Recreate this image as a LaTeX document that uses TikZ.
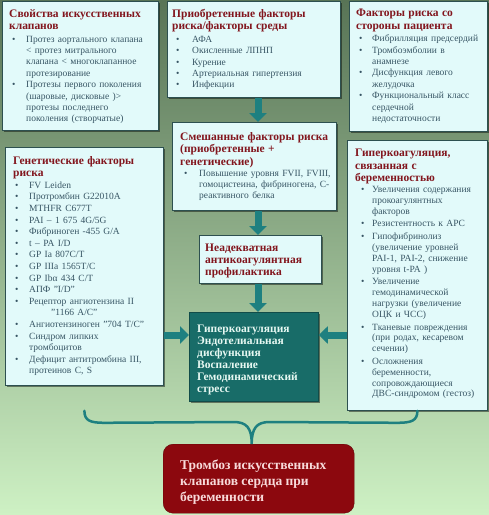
\documentclass[tikz,border=0pt]{standalone}
\usepackage{fontspec}
\setmainfont{Liberation Serif}
\usetikzlibrary{arrows.meta,shadows,calc}
\definecolor{bgtop}{RGB}{88,116,86}
\definecolor{bgmid}{RGB}{138,170,122}
\definecolor{bgbot}{RGB}{206,241,196}
\definecolor{boxfill}{RGB}{226,250,250}
\definecolor{boxline}{RGB}{45,80,80}
\definecolor{ttl}{RGB}{130,22,30}
\definecolor{bodyc}{RGB}{55,85,100}
\definecolor{arrowc}{RGB}{30,128,128}
\definecolor{tealbox}{RGB}{24,108,104}
\definecolor{tealtxt}{RGB}{230,248,242}
\definecolor{redbox}{RGB}{140,8,14}
\definecolor{redtxt}{RGB}{248,218,218}
\newlength\bind
\newlength\boff
\setlength\bind{17pt}
\setlength\boff{3pt}
\newcommand\ttlfont{\fontsize{11.5}{12.5}\selectfont\bfseries\color{ttl}}
\newcommand\bodyfont{\fontsize{9.5}{11.4}\selectfont\color{bodyc}}
\newcommand\bi[1]{\par\noindent\hangindent=\bind\hangafter=1\makebox[\bind][l]{\hspace{\boff}\textbullet}\begingroup\let\\\newline #1\endgroup}
\tikzset{
  infobox/.style={draw=boxline, line width=0.8pt, fill=boxfill, anchor=north west, inner sep=0pt,
    drop shadow={shadow xshift=1.5pt, shadow yshift=-1.5pt, fill=black, opacity=0.45}},
  txtblk/.style={anchor=north west, inner sep=0pt, align=left, text width=#1},
  blockarrow/.style={draw=arrowc, line width=7pt, -{Triangle[width=17pt,length=9pt,fill=arrowc]}},
  bracepath/.style={draw=arrowc, line width=2.5pt, line cap=round},
}
\begin{document}
\begin{tikzpicture}[x=1pt,y=-1pt]
\useasboundingbox (0,0) rectangle (489,515);
\shade[top color=bgtop, middle color=bgmid, bottom color=bgbot] (0,0) rectangle (489,515);

% boxes
\node[infobox, minimum width=156pt, minimum height=129pt] (b1) at (2,1) {};
\node[infobox, minimum width=173pt, minimum height=96pt] (b2) at (167,1) {};
\node[infobox, minimum width=138pt, minimum height=130pt] (b3) at (349,1) {};
\node[infobox, minimum width=164pt, minimum height=88pt] (b4) at (172,122) {};
\node[infobox, minimum width=158pt, minimum height=238pt] (b5) at (5,147) {};
\node[infobox, minimum width=140pt, minimum height=270pt] (b6) at (347,140) {};
\node[infobox, minimum width=122pt, minimum height=48pt] (b7) at (199,235) {};
\node[infobox, fill=tealbox, draw=tealbox!70!black, minimum width=129pt, minimum height=89pt] (b8) at (189,312) {};
\node[draw=redbox!70!black, fill=redbox, rounded corners=10pt, anchor=north west, inner sep=0pt,
  minimum width=191pt, minimum height=69pt] (b9) at (163,444) {};

% texts
\node[txtblk=150pt] (t1) at ($(b1.north west)+(7,8)$) {%
  {\ttlfont Свойства искусственных\\клапанов\par}\vspace{1pt}
  {\bodyfont
  \bi{Протез аортального клапана\\< протез митрального\\клапана < многоклапанное\\протезирование}
  \bi{Протезы первого поколения\\(шаровые, дисковые )>\\протезы последнего\\поколения (створчатые)}\par}};

\node[txtblk=168pt] (t2) at ($(b2.north west)+(5,8)$) {%
  {\ttlfont Приобретенные факторы\\риска/факторы среды\par}\vspace{1pt}
  {\bodyfont\setlength\bind{20pt}\setlength\boff{4pt}
  \bi{АФА}
  \bi{Окисленные ЛПНП}
  \bi{Курение}
  \bi{Артериальная гипертензия}
  \bi{Инфекции}\par}};

\node[txtblk=136pt] (t3) at ($(b3.north west)+(7,8)$) {%
  {\ttlfont Факторы риска со\\стороны пациента\par}\vspace{1pt}
  {\bodyfont\setlength\bind{16pt}
  \bi{Фибрилляция предсердий}
  \bi{Тромбоэмболии в\\анамнезе}
  \bi{Дисфункция левого\\желудочка}
  \bi{Функциональный класс\\сердечной\\недостаточности}\par}};

\node[txtblk=160pt] (t4) at ($(b4.north west)+(8,10)$) {%
  {\ttlfont Смешанные факторы риска\\(приобретенные +\\генетические)\par}\vspace{0.5pt}
  {\bodyfont\fontsize{9.5}{11}\selectfont\setlength\bind{19pt}\setlength\boff{4pt}
  \bi{Повышение уровня FVII, FVIII,\\гомоцистеина, фибриногена, С-\\реактивного белка}\par}};

\node[txtblk=154pt] (t5) at ($(b5.north west)+(8,9)$) {%
  {\ttlfont Генетические факторы\\риска\par}
  {\bodyfont\fontsize{9.5}{11.6}\selectfont\setlength\bind{16pt}\setlength\boff{2pt}
  \bi{FV Leiden}
  \bi{Протромбин G22010A}
  \bi{MTHFR C677T}
  \bi{PAI – 1 675 4G/5G}
  \bi{Фибриноген -455 G/A}
  \bi{t – PA I/D}
  \bi{GP Ia 807C/T}
  \bi{GP IIIa 1565T/C}
  \bi{GP Ibα 434 C/T}
  \bi{АПФ "I/D"}
  \bi{Рецептор ангиотензина II\\\hspace*{22pt}"1166 A/C"}
  \bi{Ангиотензиноген "704 T/C"}
  \bi{Синдром липких\\тромбоцитов}
  \bi{Дефицит антитромбина III,\\протеинов C, S}\par}};

\node[txtblk=138pt] (t6) at ($(b6.north west)+(8,9)$) {%
  {\ttlfont Гиперкоагуляция,\\связанная с\\беременностью\par}
  {\bodyfont\setlength\bind{17pt}\setlength\boff{6pt}\fontsize{9.5}{10.8}\selectfont
  \bi{Увеличения содержания\\прокоагулянтных\\факторов}\vspace{2pt}
  \bi{Резистентность к APC}\vspace{2pt}
  \bi{Гипофибринолиз\\(увеличение уровней\\PAI-1, PAI-2, снижение\\уровня t-PA )}\vspace{2pt}
  \bi{Увеличение\\гемодинамической\\нагрузки (увеличение\\ОЦК и ЧСС)}\vspace{2pt}
  \bi{Тканевые повреждения\\(при родах, кесаревом\\сечении)}\vspace{2pt}
  \bi{Осложнения\\беременности,\\сопровождающиеся\\ДВС-синдромом (гестоз)}\par}};

\node[txtblk=118pt] (t7) at ($(b7.north west)+(6,9)$) {%
  {\fontsize{11.5}{12}\selectfont\bfseries\color{ttl}Неадекватная\\антикоагулянтная\\профилактика\par}};

\node[txtblk=125pt] (t8) at ($(b8.north west)+(8,13)$) {%
  {\fontsize{11.5}{12}\selectfont\bfseries\color{tealtxt}Гиперкоагуляция\\Эндотелиальная\\дисфункция\\Воспаление\\Гемодинамический\\стресс\par}};

\node[txtblk=185pt] (t9) at ($(b9.north west)+(17,16)$) {%
  {\fontsize{13.5}{16}\selectfont\bfseries\color{redtxt}Тромбоз искусственных\\клапанов сердца при\\беременности\par}};

% arrows
\coordinate (ax) at (258,0);
\coordinate (ay) at (0,335);
\draw[blockarrow] (b2.south -| ax) -- (b4.north -| ax);
\draw[blockarrow] (b4.south -| ax) -- (b7.north -| ax);
\draw[blockarrow] (b7.south -| ax) -- (b8.north -| ax);
\draw[blockarrow] (b5.east |- ay) -- (b8.west |- ay);
\draw[blockarrow] (b6.west |- ay) -- (b8.east |- ay);

% brace
\coordinate (bl) at (b5.south |- b6.south);
\coordinate (br) at (b6.south);
\coordinate (tip) at ([xshift=-7pt]b9.north);
\draw[bracepath] (bl) .. controls ($(bl)+(0,10)$) and ($(bl)+(6,12)$) .. ($(bl)+(20,12)$)
  -- ($(tip)+(-18,-22)$) .. controls ($(tip)+(-5,-22)$) and ($(tip)+(0,-16)$) .. (tip)
  .. controls ($(tip)+(0,-16)$) and ($(tip)+(5,-22)$) .. ($(tip)+(18,-22)$)
  -- ($(br)+(-20,12)$) .. controls ($(br)+(-6,12)$) and ($(br)+(0,10)$) .. (br);
\end{tikzpicture}
\end{document}
